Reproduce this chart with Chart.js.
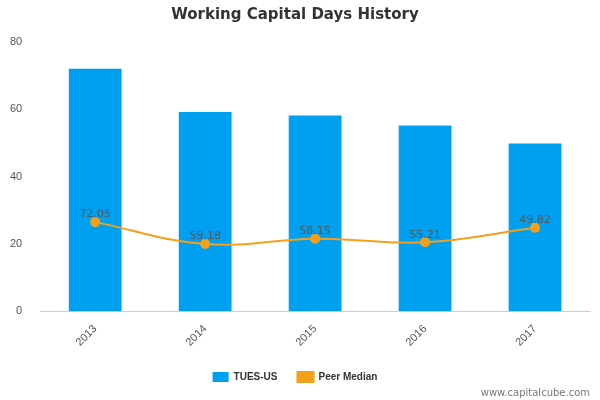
<!DOCTYPE html>
<html>
<head>
<meta charset="utf-8">
<script src="https://cdn.jsdelivr.net/npm/chart.js@4"></script>
<style>
  html, body { margin: 0; padding: 0; background: #fff; }
  #wrap { width: 600px; height: 400px; position: relative; }
</style>
</head>
<body>
<div id="wrap"><canvas id="chart"></canvas></div>
<script>
const YEARS = ['2013', '2014', '2015', '2016', '2017'];
const TUES_US = [72.05, 59.18, 58.15, 55.21, 49.82];
const PEER_MEDIAN = [26.5, 20.0, 21.6, 20.5, 24.8];
const Y_TICKS = [0, 20, 40, 60, 80];

// value labels above bars + watermark
var extras = {
  id: 'extras',
  afterDatasetsDraw: function(chart) {
    var ctx = chart.ctx;
    var meta = chart.getDatasetMeta(0);
    ctx.save();
    ctx.font = '11px "DejaVu Sans", sans-serif';
    ctx.fillStyle = '#555';
    ctx.textAlign = 'center';
    ctx.textBaseline = 'bottom';
    meta.data.forEach(function(bar, i) {
      ctx.fillText(TUES_US[i].toFixed(2), bar.x, bar.y - 2);
    });
    ctx.font = '10px "DejaVu Sans", sans-serif';
    ctx.fillStyle = '#777';
    ctx.textAlign = 'right';
    ctx.fillText('www.capitalcube.com', 590, 398);
    ctx.restore();
  }
};

new Chart(document.getElementById('chart'), {
  type: 'bar',
  data: {
    labels: YEARS,
    datasets: [
      {
        type: 'line',
        label: 'Peer Median',
        data: PEER_MEDIAN,
        borderColor: '#f5a01a',
        backgroundColor: '#f5a01a',
        borderWidth: 2, pointRadius: 4, tension: 0.4,
        order: 0,
      },
      {
        label: 'TUES-US',
        data: TUES_US,
        backgroundColor: '#00a0f0',
        barPercentage: 0.48,
        categoryPercentage: 1,
        order: 1,
      },
    ],
  },
  options: {
    responsive: true,
    maintainAspectRatio: false,
    animation: false,
    layout: { padding: { left: 0, right: 10, top: 0, bottom: 8 } },
    scales: {
      x: {
        grid: { display: false, drawTicks: true, tickLength: 8, color: '#c0d0e0' },
        border: { color: '#c0d0e0' },
        ticks: { maxRotation: 45, minRotation: 45, color: '#555', font: { size: 11 } },
      },
      y: {
        min: 0, max: 80,
        afterBuildTicks: function(axis) { axis.ticks = Y_TICKS.map(function(v) { return { value: v }; }); },
        grid: { display: false },
        border: { display: false },
        ticks: { color: '#555', font: { size: 11 }, padding: 10 },
      },
    },
    plugins: {
      title: {
        display: true,
        text: 'Working Capital Days History',
        color: '#333',
        font: { size: 15, weight: 'bold', family: '"DejaVu Sans", sans-serif' },
        padding: { top: 6, bottom: 18 },
      },
      legend: {
        position: 'bottom',
        reverse: true,
        labels: { color: '#333', font: { size: 10, weight: 'bold' }, boxWidth: 16, boxHeight: 10, padding: 20 },
      },
      tooltip: { enabled: false },
    },
  },
  plugins: [extras],
});
</script>
</body>
</html>
